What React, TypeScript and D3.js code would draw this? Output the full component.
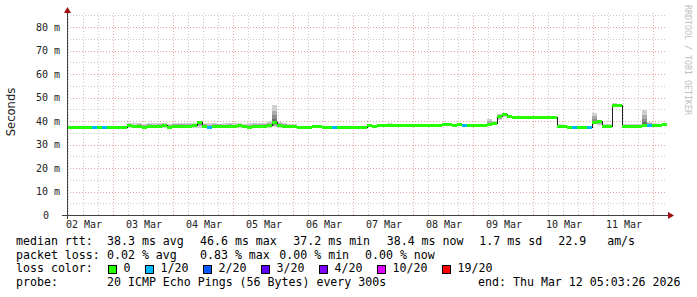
import React from "react";
import * as d3 from "d3";

const W = 697;
const H = 297;

// time window (10 days, end Thu Mar 12 2026)
const startMs = Date.UTC(2026, 2, 2, 5, 36, 0);
const HOUR = 3600e3;
const endMs = startMs + 240 * HOUR;
const bucketHours = 2;

// median RTT per 2-hour bucket (ms)
const median = [
  37.2, 37.2, 37.2, 37.3, 37.2, 37.2, 37.2, 37.2, 37.2, 37.2,
  37.2, 37.2, 37.9, 37.5, 37.8, 37.4, 37.8, 37.5, 37.6, 37.9,
  37.4, 37.6, 37.8, 37.5, 37.7, 37.9, 39.3, 37.6, 37.4, 37.6,
  37.8, 37.5, 37.7, 37.5, 37.9, 37.6, 37.4, 37.8, 37.6, 37.7,
  37.9, 39.3, 38.0, 37.6, 37.7, 37.5, 37.3, 37.3, 37.3, 37.6,
  37.5, 37.3, 37.3, 37.3, 37.3, 37.3, 37.3, 37.3, 37.3, 37.3,
  37.9, 37.5, 38.2, 38.2, 38.2, 38.2, 38.2, 38.2, 38.2, 38.2,
  38.2, 38.2, 38.2, 38.2, 38.2, 38.6, 38.4, 38.2, 38.4, 38.2,
  38.2, 38.2, 38.2, 38.2, 38.3, 39.0, 41.8, 42.8, 42.0, 41.7,
  41.7, 41.7, 41.7, 41.7, 41.7, 41.7, 41.7, 41.7, 37.8, 37.5,
  37.3, 37.3, 37.3, 37.3, 37.3, 39.5, 39.7, 37.5, 37.6, 46.6,
  46.4, 37.6, 37.6, 37.6, 37.6, 38.2, 38.0, 38.1, 38.2, 38.4,
];

// highest ping per bucket (ms)
const smokeHi = [
  37.5, 37.5, 37.5, 37.5, 37.5, 37.5, 37.5, 37.5, 37.5, 37.5,
  37.5, 37.5, 39.1, 39.0, 39.2, 38.9, 39.1, 39.0, 39.2, 39.0,
  38.9, 39.1, 39.0, 39.2, 39.1, 39.3, 40.0, 39.2, 39.0, 39.1,
  38.9, 39.0, 39.2, 39.0, 39.1, 38.9, 39.0, 39.2, 39.0, 39.1,
  39.8, 47.0, 39.6, 39.0, 38.9, 38.6, 37.6, 37.6, 37.6, 37.8,
  37.7, 37.6, 37.6, 37.6, 37.6, 37.6, 37.6, 37.6, 37.6, 37.6,
  38.4, 38.0, 38.5, 38.5, 39.0, 38.5, 38.5, 38.5, 38.5, 38.5,
  38.5, 38.5, 38.5, 38.5, 38.5, 38.9, 38.8, 38.5, 38.7, 38.5,
  38.5, 38.5, 38.5, 38.5, 40.8, 40.0, 43.0, 43.5, 42.6, 42.0,
  42.0, 42.0, 42.0, 42.0, 42.0, 42.0, 42.0, 42.0, 38.6, 38.0,
  37.6, 37.6, 37.6, 37.6, 37.6, 43.4, 40.3, 38.7, 38.7, 47.5,
  47.3, 38.8, 38.8, 38.8, 38.8, 44.7, 39.5, 39.2, 38.8, 38.6,
];

// lowest ping per bucket (ms)
const smokeLo = [
  37.0, 37.0, 37.0, 37.0, 37.0, 37.0, 37.0, 37.0, 37.0, 37.0,
  37.0, 37.0, 37.1, 37.0, 37.1, 37.0, 37.1, 37.0, 37.1, 37.1,
  37.0, 37.1, 37.0, 37.1, 37.0, 37.1, 37.2, 37.1, 37.0, 37.1,
  37.0, 37.1, 37.0, 37.1, 37.0, 37.1, 37.0, 37.1, 37.0, 37.1,
  37.1, 37.3, 37.2, 37.1, 37.1, 37.0, 37.1, 37.1, 37.1, 37.2,
  37.1, 37.1, 37.1, 37.1, 37.1, 37.1, 37.1, 37.1, 37.1, 37.1,
  37.4, 37.2, 37.9, 37.9, 37.9, 37.9, 37.9, 37.9, 37.9, 37.9,
  37.9, 37.9, 37.9, 37.9, 37.9, 37.9, 37.9, 37.9, 37.9, 37.9,
  37.9, 37.9, 37.9, 37.9, 38.0, 38.3, 40.5, 41.8, 41.3, 41.3,
  41.3, 41.3, 41.3, 41.3, 41.3, 41.3, 41.3, 41.3, 37.3, 37.1,
  37.0, 37.0, 37.0, 37.0, 37.0, 38.8, 38.5, 37.2, 37.2, 45.8,
  45.8, 37.2, 37.2, 37.2, 37.2, 37.8, 37.8, 37.8, 37.8, 37.9,
];

// lost pings (of 20) per bucket
const loss = [
  0, 0, 0, 0, 0, 1, 0, 1, 0, 0,
  0, 0, 0, 0, 0, 0, 0, 0, 0, 0,
  0, 0, 0, 0, 0, 0, 0, 0, 1, 0,
  0, 0, 0, 0, 0, 0, 0, 0, 0, 0,
  0, 0, 0, 0, 0, 0, 0, 0, 0, 0,
  0, 0, 0, 1, 0, 0, 0, 0, 0, 0,
  0, 0, 0, 0, 0, 0, 0, 0, 0, 0,
  0, 0, 0, 0, 0, 0, 0, 0, 0, 1,
  0, 0, 0, 0, 0, 0, 0, 0, 0, 0,
  0, 0, 0, 0, 0, 0, 0, 0, 0, 0,
  0, 1, 0, 0, 1, 0, 0, 0, 0, 0,
  0, 0, 0, 0, 0, 0, 1, 0, 0, 0,
];

const lossLevels = [0, 1, 2, 3, 4, 10, 19];
const lossLabels = ["0", "1/20", "2/20", "3/20", "4/20", "10/20", "19/20"];
const lossColors = ["#26ff00", "#00b8ff", "#0059ff", "#5e00ff", "#7e00ff", "#dd00ff", "#ff0000"];

const yTicks = [0, 10, 20, 30, 40, 50, 60, 70, 80];
const yLabels = ["0", "10 m", "20 m", "30 m", "40 m", "50 m", "60 m", "70 m", "80 m"];

const rttLine = [
  { text: "median rtt:", x: 16 },
  { text: "38.3 ms avg", x: 107 },
  { text: "46.6 ms max", x: 200 },
  { text: "37.2 ms min", x: 293.3 },
  { text: "38.4 ms now", x: 386.7 },
  { text: "1.7 ms sd", x: 479.3 },
  { text: "22.9   am/s", x: 558.3 },
];
const lossLine = [
  { text: "packet loss:", x: 16 },
  { text: "0.02 % avg", x: 107 },
  { text: "0.83 % max", x: 200 },
  { text: "0.00 % min", x: 279.3 },
  { text: "0.00 % now", x: 365 },
];

const MONO = "'DejaVu Sans Mono', monospace";

function colorFor(l: number) {
  let idx = 0;
  lossLevels.forEach((lv, i) => {
    if (l >= lv) idx = i;
  });
  return lossColors[idx];
}

export default function App() {
  const x = d3.scaleUtc().domain([new Date(startMs), new Date(endMs)]).range([67, 667]);
  const y = d3.scaleLinear().domain([0, 80]).range([215, 27]);
  const plotTop = y(86);
  const x0 = x.range()[0];
  const x1 = x.range()[1];

  const minorH = d3.range(5, 86, 5).filter((v) => v % 10 !== 0);
  const majorH = d3.range(10, 86, 10);
  const minorV = d3.utcHour.every(6)!.range(new Date(startMs), new Date(endMs));
  const majorV = d3.utcDay.range(new Date(startMs), new Date(endMs));
  const dayLabels = d3
    .utcDay.range(new Date(startMs - 24 * HOUR), new Date(endMs))
    .map((d) => new Date(d.getTime() + 12 * HOUR))
    .filter((d) => d.getTime() >= startMs && d.getTime() <= endMs);
  const fmt = d3.utcFormat("%d %b");

  const buckets = median.map((m, i) => {
    const t0 = new Date(startMs + i * bucketHours * HOUR);
    const t1 = new Date(startMs + (i + 1) * bucketHours * HOUR);
    return { m, hi: smokeHi[i], lo: smokeLo[i], l: loss[i], xa: x(t0), xb: x(t1) };
  });

  const smokeLayers = [
    { f: 1, c: "#d0d0d0" },
    { f: 0.66, c: "#ababab" },
    { f: 0.4, c: "#8c8c8c" },
    { f: 0.18, c: "#6c6c6c" },
  ];

  const stepLine = d3
    .line<{ m: number; xa: number; xb: number }>()
    .x((d) => d.xa)
    .y((d) => y(d.m))
    .curve(d3.curveStepAfter);
  const stepData = [...buckets, { ...buckets[buckets.length - 1], xa: x1 }];

  const gridGray = "#c9c9c9";
  const gridRed = "#e7a3a3";

  return (
    <svg
      width={W}
      height={H}
      style={{ position: "absolute", left: 0, top: 0, background: "#fff" }}
      shapeRendering="crispEdges"
    >
      <rect x={0} y={0} width={W} height={H} fill="#fff" />
      {/* grid */}
      {minorH.map((v) => (
        <line key={"mh" + v} x1={x0} x2={x1} y1={Math.round(y(v)) + 0.5} y2={Math.round(y(v)) + 0.5}
          stroke={gridGray} strokeDasharray="1,2" />
      ))}
      {minorV.map((d, i) => (
        <line key={"mv" + i} x1={Math.round(x(d)) + 0.5} x2={Math.round(x(d)) + 0.5} y1={plotTop} y2={215}
          stroke={gridGray} strokeDasharray="1,2" />
      ))}
      {majorH.map((v) => (
        <line key={"Mh" + v} x1={x0} x2={x1} y1={Math.round(y(v)) + 0.5} y2={Math.round(y(v)) + 0.5}
          stroke={gridRed} strokeDasharray="1,2" />
      ))}
      {majorV.map((d, i) => (
        <line key={"Mv" + i} x1={Math.round(x(d)) + 0.5} x2={Math.round(x(d)) + 0.5} y1={plotTop} y2={215}
          stroke={gridRed} strokeDasharray="1,2" />
      ))}

      {/* smoke */}
      {smokeLayers.map((layer, li) => (
        <g key={"s" + li}>
          {buckets.map((b, i) => {
            const top = b.m + (b.hi - b.m) * layer.f;
            const bot = b.m - (b.m - b.lo) * layer.f;
            return (
              <rect key={i} x={b.xa} width={b.xb - b.xa} y={y(top)} height={Math.max(0, y(bot) - y(top))}
                fill={layer.c} />
            );
          })}
        </g>
      ))}

      {/* median */}
      <path d={stepLine(stepData) || ""} fill="none" stroke="#202020" strokeWidth={1} />
      {buckets.map((b, i) => (
        <rect key={"m" + i} x={b.xa} width={b.xb - b.xa} y={y(b.m) - 1.5} height={3} fill={colorFor(b.l)} />
      ))}

      {/* axes */}
      <line x1={62} x2={670} y1={215.5} y2={215.5} stroke="#404040" />
      <line x1={67.5} x2={67.5} y1={219} y2={11} stroke="#404040" />
      <path d="M64,13 L71,13 L67.5,7 Z" fill="#a01010" shapeRendering="auto" />
      <path d="M668,212 L668,219 L674,215.5 Z" fill="#a01010" shapeRendering="auto" />

      {/* y tick labels */}
      {yTicks.map((v, i) => (
        <text key={"yl" + v} x={v === 0 ? 49 : 60} y={y(v) + 3.6} textAnchor="end" fontFamily={MONO}
          fontSize={10} fill="#222">{yLabels[i]}</text>
      ))}
      {/* x tick labels */}
      {dayLabels.map((d, i) => (
        <text key={"xl" + i} x={x(d) + 1} y={228} textAnchor="middle" fontFamily={MONO} fontSize={10}
          fill="#222">{fmt(d)}</text>
      ))}

      {/* axis title */}
      <text transform="translate(14.5,112) rotate(-90)" textAnchor="middle"
        fontFamily="'DejaVu Sans', sans-serif" fontSize={11.6} fill="#222">Seconds</text>
      <text transform="translate(685,5) rotate(90)" fontFamily={MONO} fontSize={8.3} fill="#c0c0c0">
        RRDTOOL / TOBI OETIKER
      </text>

      {/* legend */}
      <g fontFamily={MONO} fontSize={11.6} fill="#000" style={{ whiteSpace: "pre" }}>
        {rttLine.map((t, i) => (
          <text key={"r" + i} x={t.x} y={245} xmlSpace="preserve">{t.text}</text>
        ))}
        {lossLine.map((t, i) => (
          <text key={"p" + i} x={t.x} y={258.7} xmlSpace="preserve">{t.text}</text>
        ))}
        <text x={16} y={272.4}>loss color:</text>
        {lossLabels.map((lab, i) => {
          const offsets = [108.5, 145.5, 203.5, 261.5, 319.5, 377.5, 442.5];
          const bx = offsets[i];
          return (
            <g key={"lc" + i}>
              <rect x={bx} y={265.5} width={8} height={8} fill={lossColors[i]} stroke="#000" />
              <text x={bx + 15} y={272.4}>{lab}</text>
            </g>
          );
        })}
        <text x={16} y={286}>probe:</text>
        <text x={107} y={286} xmlSpace="preserve">20 ICMP Echo Pings (56 Bytes) every 300s</text>
        <text x={680.5} y={286} textAnchor="end">end: Thu Mar 12 05:03:26 2026</text>
      </g>
    </svg>
  );
}
